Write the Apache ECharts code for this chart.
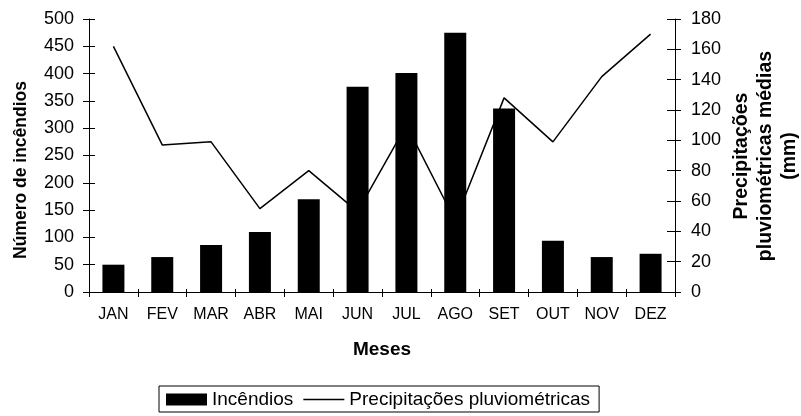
<!DOCTYPE html>
<html>
<head>
<meta charset="utf-8">
<script src="https://cdn.jsdelivr.net/npm/echarts@6/dist/echarts.min.js"></script>
<style>
  html, body { margin: 0; padding: 0; background: #fff; }
  #chart { width: 801px; height: 416px; }
</style>
</head>
<body>
<div id="chart"></div>
<script>
// Monthly fire counts and average rainfall
const meses = ['JAN', 'FEV', 'MAR', 'ABR', 'MAI', 'JUN', 'JUL', 'AGO', 'SET', 'OUT', 'NOV', 'DEZ'];
const incendios = [50, 64, 86, 110, 170, 376, 401, 475, 336, 94, 64, 70];
const precipitacoes = [162, 97, 99, 55, 80, 53, 110, 47, 128, 99, 142, 170];

const FONT = '"Liberation Sans", Arial, sans-serif';
const axisLine = { show: true, lineStyle: { color: '#000', width: 1 } };
const tickLabel = { color: '#000', fontFamily: FONT, fontSize: 18 };

const chart = echarts.init(document.getElementById('chart'), null, { renderer: 'canvas' });

// extra axes only add the inner half of each crossing tick mark
function innerY(position, min, max, interval, len) {
  return {
    type: 'value', position: position, min: min, max: max, interval: interval,
    axisLine: { show: false }, splitLine: { show: false }, axisLabel: { show: false },
    axisTick: { show: true, inside: true, length: len, lineStyle: { color: '#000' } }
  };
}

chart.setOption({
  animation: false,
  backgroundColor: '#fff',
  grid: { left: 89, right: 126, top: 19, bottom: 124 },
  xAxis: [
    {
      type: 'category', data: meses, boundaryGap: true,
      axisLine: axisLine,
      axisTick: { show: true, alignWithLabel: false, length: 5, lineStyle: { color: '#000' } },
      axisLabel: { color: '#000', fontFamily: FONT, fontSize: 16, margin: 15 }
    },
    {
      type: 'category', data: meses, position: 'bottom', boundaryGap: true,
      axisLine: { show: false }, axisLabel: { show: false },
      axisTick: { show: true, inside: true, length: 3, lineStyle: { color: '#000' } }
    }
  ],
  yAxis: [
    {
      type: 'value', position: 'left', min: 0, max: 500, interval: 50,
      axisLine: axisLine, splitLine: { show: false },
      axisTick: { show: true, length: 6, lineStyle: { color: '#000' } },
      axisLabel: Object.assign({ margin: 15 }, tickLabel)
    },
    {
      type: 'value', position: 'right', min: 0, max: 180, interval: 20,
      axisLine: axisLine, splitLine: { show: false },
      axisTick: { show: true, length: 6, lineStyle: { color: '#000' } },
      axisLabel: Object.assign({ margin: 16 }, tickLabel)
    },
    innerY('left', 0, 500, 50, 6),
    innerY('right', 0, 180, 20, 8)
  ],
  legend: {
    left: 159, top: 386,
    padding: [4, 9, 3, 7],
    borderColor: '#000', borderWidth: 1,
    itemWidth: 41, itemHeight: 12, itemGap: 10,
    symbolKeepAspect: true,
    textStyle: { color: '#000', fontFamily: FONT, fontSize: 19 },
    data: [
      { name: 'Incêndios', icon: 'rect' },
      { name: 'Precipitações pluviométricas', icon: 'path://M0,0 L42,0 L42,1.5 L0,1.5 Z' }
    ]
  },
  graphic: [
    {
      type: 'text', x: 21, y: 170, rotation: Math.PI / 2,
      style: {
        text: 'Número de incêndios', fill: '#000', font: 'bold 17.5px ' + FONT,
        align: 'center', verticalAlign: 'middle'
      }
    },
    {
      type: 'text', x: 766, y: 156, rotation: Math.PI / 2,
      style: {
        text: 'Precipitações\npluviométricas médias\n(mm)', fill: '#000',
        font: 'bold 19.5px ' + FONT, lineHeight: 24,
        align: 'center', verticalAlign: 'middle'
      }
    },
    {
      type: 'text', x: 382, y: 350,
      style: {
        text: 'Meses', fill: '#000', font: 'bold 19px ' + FONT,
        align: 'center', verticalAlign: 'middle'
      }
    }
  ],
  series: [
    {
      name: 'Precipitações pluviométricas', type: 'line', yAxisIndex: 1,
      data: precipitacoes, symbol: 'none', z: 2,
      lineStyle: { color: '#000', width: 1.5 }, itemStyle: { color: '#000' }
    },
    {
      name: 'Incêndios', type: 'bar', yAxisIndex: 0,
      data: incendios, barWidth: 22, z: 3,
      itemStyle: { color: '#000' }
    }
  ]
});
</script>
</body>
</html>
